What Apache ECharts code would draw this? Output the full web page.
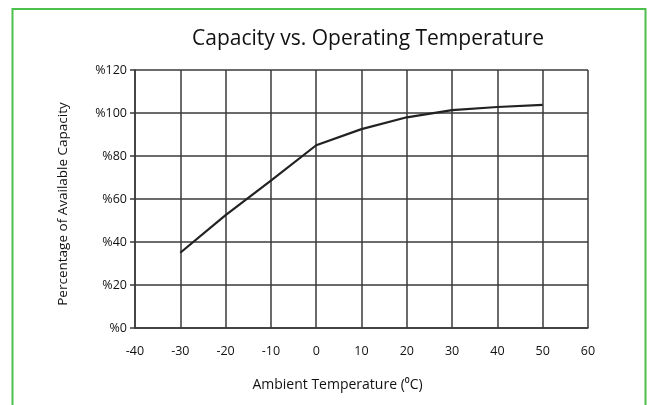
<!DOCTYPE html>
<html><head><meta charset="utf-8">
<script src="https://cdn.jsdelivr.net/npm/echarts@6/dist/echarts.min.js"></script>
<style>html,body{margin:0;padding:0;background:#fff}#c{width:652px;height:405px}</style>
</head><body><div id="c"></div>
<script>
const temps = [-30, -20, -10, 0, 10, 20, 30, 40, 50];
const capacity = [35, 52.5, 68.5, 85, 92.5, 98, 101.3, 102.8, 103.8];
const xTicks = [-40, -30, -20, -10, 0, 10, 20, 30, 40, 50, 60];
const yTicks = [0, 20, 40, 60, 80, 100, 120];
const title = 'Capacity vs. Operating Temperature';
const xName = 'Ambient Temperature (\u2070C)';
const yName = 'Percentage of Available Capacity';

const font = '"Open Sans", "Liberation Sans", sans-serif';
const chart = echarts.init(document.getElementById('c'), null, {renderer: 'canvas'});
const gridColor = '#3a3a3a';
const textColor = '#111';
chart.setOption({
  animation: false,
  backgroundColor: '#fff',
  title: {
    text: title, left: 363, top: 24, textAlign: 'center',
    textStyle: {fontFamily: font, fontSize: 21, fontWeight: 'normal', color: textColor}
  },
  graphic: [{
    type: 'polyline', silent: true,
    shape: {points: [[12.5, 410], [12.5, 9], [645.5, 9], [645.5, 410]]},
    style: {stroke: '#4dbf4d', lineWidth: 2, fill: null}
  }],
  grid: {left: 135, right: 64, top: 70, bottom: 77},
  xAxis: {
    type: 'value', min: xTicks[0], max: xTicks[xTicks.length - 1], interval: 10,
    name: xName, nameLocation: 'middle', nameGap: 50,
    nameTextStyle: {fontFamily: font, fontSize: 14, color: textColor, padding: [0, 48, 0, 0]},
    axisLine: {show: true, onZero: false, lineStyle: {color: gridColor, width: 1.5}},
    axisTick: {show: false},
    axisLabel: {fontFamily: font, fontSize: 12.5, color: textColor, margin: 17},
    splitLine: {show: true, lineStyle: {color: gridColor, width: 1.5}}
  },
  yAxis: {
    type: 'value', min: yTicks[0], max: yTicks[yTicks.length - 1], interval: 20,
    name: yName, nameLocation: 'middle', nameGap: 65, nameRotate: 90,
    nameTextStyle: {fontFamily: font, fontSize: 13.5, color: textColor, padding: [0, 10, 0, 0]},
    axisLine: {show: true, onZero: false, lineStyle: {color: gridColor, width: 1.5}},
    axisTick: {show: true, length: 5, lineStyle: {color: gridColor, width: 1.5}},
    axisLabel: {fontFamily: font, fontSize: 12.5, color: textColor, margin: 8,
      formatter: v => '%' + v},
    splitLine: {show: true, lineStyle: {color: gridColor, width: 1.5}}
  },
  series: [{
    type: 'line', data: temps.map((t, i) => [t, capacity[i]]),
    showSymbol: false, lineStyle: {color: '#222', width: 2.2}
  }]
});
</script></body></html>
